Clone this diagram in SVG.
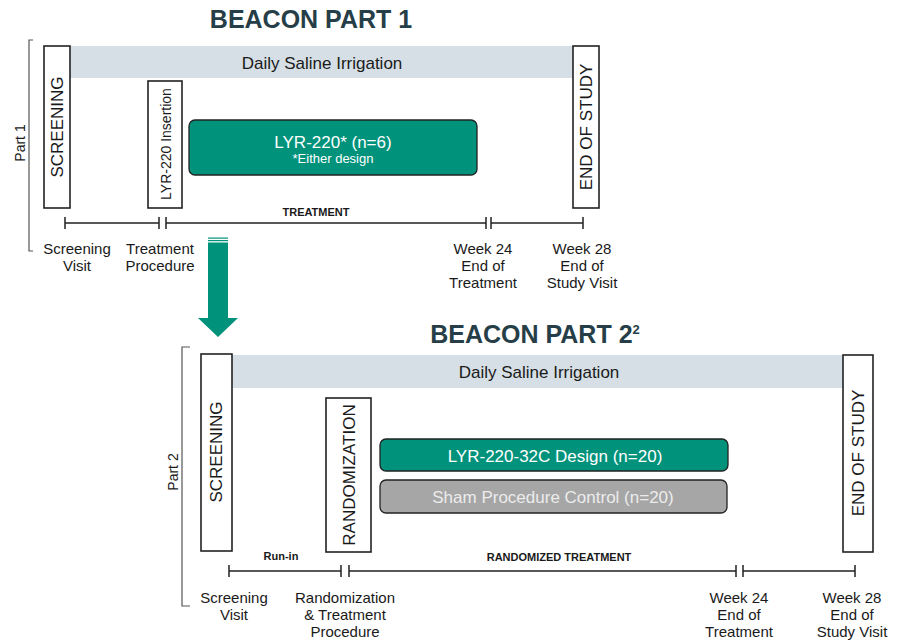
<svg xmlns="http://www.w3.org/2000/svg" width="906" height="642" viewBox="0 0 906 642">
<style>
text{font-family:"Liberation Sans",Arial,sans-serif;fill:#1a1a1a}
.title{font-size:25px;font-weight:bold;fill:#263e47}
.lbl{font-size:15px;text-anchor:middle}
.box{fill:#fff;stroke:#222;stroke-width:1.6}
.bar{fill:#d6dfe5}
.vt{font-size:17px;text-anchor:middle}
.sm{font-size:11px;font-weight:bold;text-anchor:middle}
.tl{stroke:#222;stroke-width:1.5;fill:none}
.br{stroke:#555;stroke-width:1.2;fill:none}
.grn{fill:#00927b;stroke:#222;stroke-width:1.3}
.gry{fill:#a6a6a6;stroke:#222;stroke-width:1.3}
</style>
<g id="part1">
<text class="title" x="311" y="28" text-anchor="middle">BEACON PART 1</text>
<path class="br" d="M33,40 H29 V251 H33"/>
<text x="20" y="143" font-size="14" text-anchor="middle" transform="rotate(-90 20 143)" dy="5">Part 1</text>
<g id="saline1"><rect class="bar" x="70" y="46" width="503" height="32"/><text x="322" y="69" font-size="17" text-anchor="middle">Daily Saline Irrigation</text></g>
<g id="screening1"><rect class="box" x="44" y="46" width="26" height="162"/><text class="vt" transform="translate(63 127) rotate(-90)">SCREENING</text></g>
<g id="insertion1"><rect class="box" x="148" y="81" width="34" height="127"/><text transform="translate(171 144) rotate(-90)" font-size="14" text-anchor="middle">LYR-220 Insertion</text></g>
<g id="lyr220"><rect class="grn" x="189" y="120" width="288" height="55" rx="6"/><text x="333" y="148" font-size="17" text-anchor="middle" style="fill:#fff">LYR-220* (n=6)</text><text x="333" y="163" font-size="13" text-anchor="middle" style="fill:#fff">*Either design</text></g>
<g id="end1"><rect class="box" x="573" y="46" width="26" height="162"/><text class="vt" transform="translate(592 127) rotate(-90)">END OF STUDY</text></g>
<text class="sm" x="316" y="216">TREATMENT</text>
</g>
<g id="connectors">
<path class="tl" d="M65,223 H159 M65,217 V229 M159,217 V229 M166,223 H486 M166,217 V229 M486,217 V229 M491,223 H583 M491,217 V229 M583,217 V229"/>
<path class="tl" d="M229,571 H341 M229,565 V577 M341,565 V577 M349,571 H736 M349,565 V577 M736,565 V577 M743,571 H855 M743,565 V577 M855,565 V577"/>
<g id="arrow" fill="#00927b">
<rect x="208" y="237.5" width="20" height="1.2"/>
<rect x="208" y="240" width="20" height="1.2"/>
<path d="M208,242.5 H228 V318 H238 L218,337 L198,318 H208 Z"/>
</g>
</g>
<g id="labels1">
<text class="lbl" x="77" y="254">Screening<tspan x="77" dy="17">Visit</tspan></text>
<text class="lbl" x="160" y="254">Treatment<tspan x="160" dy="17">Procedure</tspan></text>
<text class="lbl" x="483" y="254">Week 24<tspan x="483" dy="17">End of</tspan><tspan x="483" dy="17">Treatment</tspan></text>
<text class="lbl" x="582" y="254">Week 28<tspan x="582" dy="17">End of</tspan><tspan x="582" dy="17">Study Visit</tspan></text>
</g>
<g id="part2">
<text class="title" x="535" y="343" text-anchor="middle">BEACON PART 2<tspan font-size="13" dy="-9">2</tspan></text>
<path class="br" d="M190,347 H182 V606 H190"/>
<text x="173" y="472" font-size="14" text-anchor="middle" transform="rotate(-90 173 472)" dy="5">Part 2</text>
<g id="saline2"><rect class="bar" x="232" y="355" width="611" height="33"/><text x="539" y="378" font-size="17" text-anchor="middle">Daily Saline Irrigation</text></g>
<g id="screening2"><rect class="box" x="201" y="354" width="31" height="197"/><text class="vt" transform="translate(222 452) rotate(-90)">SCREENING</text></g>
<g id="randomization"><rect class="box" x="326" y="398" width="45" height="154"/><text class="vt" transform="translate(354.5 475) rotate(-90)">RANDOMIZATION</text></g>
<g id="lyr32c"><rect class="grn" x="380" y="439" width="348" height="32" rx="6"/><text x="555" y="462" font-size="17" text-anchor="middle" style="fill:#fff">LYR-220-32C Design (n=20)</text></g>
<g id="sham"><rect class="gry" x="380" y="480" width="347" height="33" rx="6"/><text x="553" y="503" font-size="17" text-anchor="middle" style="fill:#ececec">Sham Procedure Control (n=20)</text></g>
<g id="end2"><rect class="box" x="843" y="355" width="30" height="197"/><text class="vt" transform="translate(864 453) rotate(-90)">END OF STUDY</text></g>
<text class="sm" x="281" y="560">Run-in</text>
<text class="sm" x="559" y="561">RANDOMIZED TREATMENT</text>
</g>
<g id="labels2">
<text class="lbl" x="234" y="603">Screening<tspan x="234" dy="17">Visit</tspan></text>
<text class="lbl" x="345" y="603">Randomization<tspan x="345" dy="17">&amp; Treatment</tspan><tspan x="345" dy="17">Procedure</tspan></text>
<text class="lbl" x="739" y="603">Week 24<tspan x="739" dy="17">End of</tspan><tspan x="739" dy="17">Treatment</tspan></text>
<text class="lbl" x="852" y="603">Week 28<tspan x="852" dy="17">End of</tspan><tspan x="852" dy="17">Study Visit</tspan></text>
</g>
</svg>
